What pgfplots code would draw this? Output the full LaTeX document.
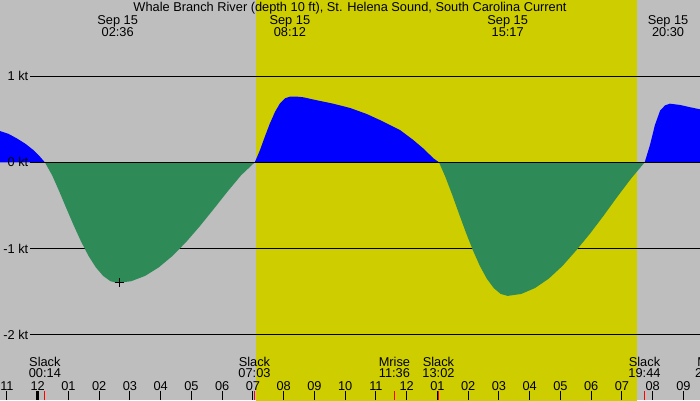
\documentclass[border=0pt]{standalone}
\usepackage{fontspec}
\setmainfont{Liberation Sans}
\usepackage{pgfplots}
\pgfplotsset{compat=1.18}
\definecolor{bg}{RGB}{190,190,190}
\definecolor{day}{RGB}{205,205,0}
\definecolor{ebb}{RGB}{46,139,87}
\definecolor{flood}{RGB}{0,0,255}
\begin{document}
\begin{tikzpicture}[every node/.append style={font=\fontsize{12.8}{15}\selectfont}]
\begin{axis}[name=ax, scale only axis, width=700pt, height=400pt,
  xmin=-1.226, xmax=21.538, ymin=-2.7576, ymax=1.8828,
  axis on top=true,
  axis background/.style={fill=bg},
  axis line style={draw=none},
  ytick=\empty,
  xtick={-1,0,...,21},
  xticklabels={11,12,01,02,03,04,05,06,07,08,09,10,11,12,01,02,03,04,05,06,07,08,09},
  xtick pos=bottom, tick align=inside,
  major tick length=9pt,
  x tick style={black, line width=1pt},
  xticklabel style={anchor=base, yshift=10pt, inner sep=0pt},
]
% daylight band
\addplot[fill=day, draw=none] coordinates {(7.10,-3) (7.10,2) (19.50,2) (19.50,-3)} -- cycle;
% grid lines
\draw[black, line width=1pt] (axis cs:-0.25,1) -- (axis cs:22,1);
\draw[black, line width=1pt] (axis cs:-0.25,-1) -- (axis cs:22,-1);
\draw[black, line width=1pt] (axis cs:-0.25,-2) -- (axis cs:22,-2);
% flood (blue)
\addplot[fill=flood, draw=none] coordinates {
 (-1.30,0.375) (-1.226,0.363) (-0.95,0.33) (-0.683,0.278) (-0.40,0.215)
 (-0.143,0.143) (0.05,0.075) (0.233,0)} \closedcycle;
% ebb (green)
\addplot[fill=ebb, draw=none] coordinates {
 (0.233,0) (0.47,-0.151) (0.706,-0.342) (0.943,-0.543) (1.18,-0.740)
 (1.417,-0.924) (1.653,-1.086) (1.89,-1.219) (2.127,-1.318) (2.363,-1.379)
 (2.6,-1.40) (3.046,-1.379) (3.492,-1.318) (3.938,-1.219) (4.384,-1.086)
 (4.83,-0.924) (5.276,-0.740) (5.722,-0.543) (6.168,-0.342) (6.614,-0.151)
 (7.06,0)} \closedcycle;
\addplot[fill=flood, draw=none] coordinates {
 (7.06,0) (7.23,0.143) (7.39,0.30) (7.55,0.45) (7.72,0.587) (7.88,0.684)
 (8.04,0.742) (8.20,0.761) (8.40,0.763) (8.64,0.754) (9.07,0.72)
 (9.61,0.68) (10.16,0.63) (10.70,0.56) (11.13,0.49) (11.78,0.375)
 (12.21,0.26) (12.54,0.16) (12.87,0.046) (13.05,0)} \closedcycle;
\addplot[fill=ebb, draw=none] coordinates {
 (13.05,0) (13.255,-0.167) (13.48,-0.378) (13.705,-0.601) (13.93,-0.820)
 (14.155,-1.023) (14.38,-1.203) (14.605,-1.350) (14.83,-1.459) (15.055,-1.527)
 (15.28,-1.55) (15.726,-1.527) (16.172,-1.459) (16.618,-1.350) (17.064,-1.203)
 (17.51,-1.023) (17.956,-0.830) (18.402,-0.62) (18.848,-0.40) (19.294,-0.19)
 (19.74,0)} \closedcycle;
\addplot[fill=flood, draw=none] coordinates {
 (19.74,0) (19.91,0.20) (20.07,0.43) (20.24,0.60) (20.40,0.66) (20.56,0.68)
 (20.89,0.665) (21.2,0.64) (21.6,0.61)} \closedcycle;
% zero line
\draw[black, line width=1pt] (axis cs:-0.25,0) -- (axis cs:22,0);
% current marker
\addplot[only marks, mark=+, mark size=4.5pt, black, line width=1pt] coordinates {(2.65,-1.40)};
% y labels
\node[anchor=east, inner sep=0pt] at (axis cs:-0.30,1) {1 kt};
\node[anchor=east, inner sep=0pt] at (axis cs:-0.30,0) {0 kt};
\node[anchor=east, inner sep=0pt] at (axis cs:-0.30,-1) {-1 kt};
\node[anchor=east, inner sep=0pt] at (axis cs:-0.30,-2) {-2 kt};
% title
\node[anchor=base, inner sep=0pt] at (axis cs:10.156,1.749) {Whale Branch River (depth 10 ft), St. Helena Sound, South Carolina Current};
% top event labels
\node[anchor=base, inner sep=0pt] at (axis cs:2.6,1.593) {Sep 15};
\node[anchor=base, inner sep=0pt] at (axis cs:2.6,1.465) {02:36};
\node[anchor=base, inner sep=0pt] at (axis cs:8.2,1.593) {Sep 15};
\node[anchor=base, inner sep=0pt] at (axis cs:8.2,1.465) {08:12};
\node[anchor=base, inner sep=0pt] at (axis cs:15.283,1.593) {Sep 15};
\node[anchor=base, inner sep=0pt] at (axis cs:15.283,1.465) {15:17};
\node[anchor=base, inner sep=0pt] at (axis cs:20.5,1.593) {Sep 15};
\node[anchor=base, inner sep=0pt] at (axis cs:20.5,1.465) {20:30};
% bottom event labels
\node[anchor=base, inner sep=0pt] at (axis cs:0.233,-2.371) {Slack};
\node[anchor=base, inner sep=0pt] at (axis cs:0.233,-2.499) {00:14};
\node[anchor=base, inner sep=0pt] at (axis cs:7.05,-2.371) {Slack};
\node[anchor=base, inner sep=0pt] at (axis cs:7.05,-2.499) {07:03};
\node[anchor=base, inner sep=0pt] at (axis cs:11.6,-2.371) {Mrise};
\node[anchor=base, inner sep=0pt] at (axis cs:11.6,-2.499) {11:36};
\node[anchor=base, inner sep=0pt] at (axis cs:13.033,-2.371) {Slack};
\node[anchor=base, inner sep=0pt] at (axis cs:13.033,-2.499) {13:02};
\node[anchor=base, inner sep=0pt] at (axis cs:19.733,-2.371) {Slack};
\node[anchor=base, inner sep=0pt] at (axis cs:19.733,-2.499) {19:44};
\node[anchor=base, inner sep=0pt] at (axis cs:21.9,-2.371) {Mset};
\node[anchor=base, inner sep=0pt] at (axis cs:21.9,-2.499) {21:54};
% event ticks
\draw[red, line width=1pt] (axis cs:0.233,-2.6535) -- (axis cs:0.233,-2.7576);
\draw[red, line width=1pt] (axis cs:7.05,-2.6535) -- (axis cs:7.05,-2.7576);
\draw[red, line width=1pt] (axis cs:11.6,-2.6535) -- (axis cs:11.6,-2.7576);
\draw[red, line width=1pt] (axis cs:13.033,-2.6535) -- (axis cs:13.033,-2.7576);
\draw[red, line width=1pt] (axis cs:19.733,-2.6535) -- (axis cs:19.733,-2.7576);
\draw[black, line width=3pt] (axis cs:0,-2.6535) -- (axis cs:0,-2.7576);
\end{axis}
\pgfresetboundingbox
\useasboundingbox (ax.south west) rectangle (ax.north east);
\end{tikzpicture}
\end{document}
